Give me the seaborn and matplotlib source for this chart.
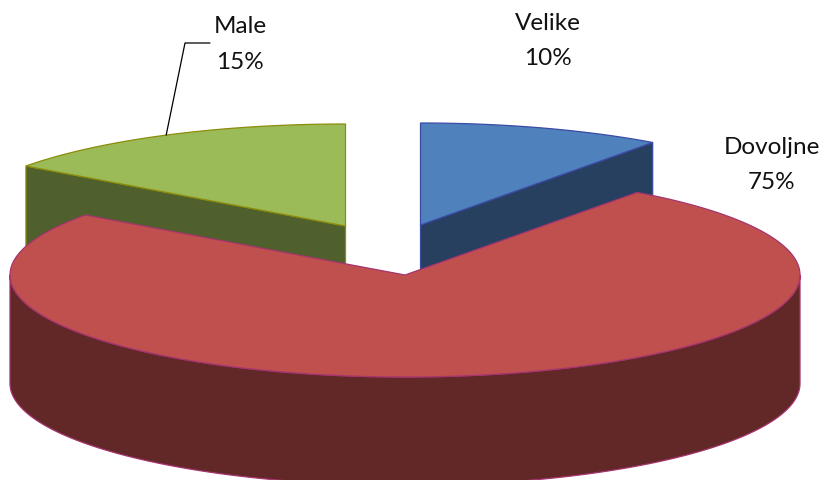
import numpy as np
import matplotlib
matplotlib.use("Agg")
import matplotlib.pyplot as plt
import seaborn as sns

# Data
categories = ["Velike", "Dovoljne", "Male"]
shares = [10, 75, 15]

# Styles
top_colors = sns.color_palette(["#4F81BD", "#C0504D", "#9BBB59"])
wall_colors = sns.color_palette(["#28405F", "#622828", "#4F602D"])
edge_colors = sns.color_palette(["#3A4BA5", "#A5346F", "#8C8C0A"])
centers = [(420.5, 225.0), (405.0, 275.0), (345.5, 226.0)]
label_pos = [(548, 41), (772, 165), (240, 44.5)]
RX, RY, DEPTH = 395.0, 102.0, 108.5
START = 90.0

sns.set_theme(style="white")
plt.rcParams["font.family"] = ["Lato", "DejaVu Sans"]

fig = plt.figure(figsize=(8.25, 4.8), dpi=100)
ax = fig.add_axes([0, 0, 1, 1])
ax.set_xlim(0, 825)
ax.set_ylim(480, 0)
ax.axis("off")


def rim(center, t):
    t = np.radians(t)
    return center[0] + RX * np.cos(t), center[1] - RY * np.sin(t)


# clockwise angle ranges derived from the shares
ends = START - 360.0 * np.cumsum(shares) / np.sum(shares)
starts = np.r_[START, ends[:-1]]

draw_order = [0, 2, 1]
for i in draw_order:
    c, a0, a1 = centers[i], starts[i], ends[i]
    z = {0: 2, 2: 2, 1: 5}[i]
    # cut faces visible from the front
    if i == 0:
        x1, y1 = rim(c, a1)
        ax.fill([c[0], x1, x1, c[0]], [c[1], y1, y1 + DEPTH, c[1] + DEPTH],
                fc=wall_colors[i], ec=edge_colors[i], lw=0.9, zorder=z)
    elif i == 2:
        x0, y0 = rim(c, a0)
        ax.fill([c[0], x0, x0, c[0]], [c[1], y0, y0 + DEPTH, c[1] + DEPTH],
                fc=wall_colors[i], ec=edge_colors[i], lw=0.9, zorder=z)
    else:
        # outer wall: the front half of the rim
        t = np.linspace(180, 360, 240)
        xs, ys = rim(c, t)
        ax.fill(np.r_[xs, xs[::-1]], np.r_[ys, ys[::-1] + DEPTH],
                fc=wall_colors[i], ec=edge_colors[i], lw=0.9, zorder=z)
    # top face
    t = np.linspace(a0, a1, 300)
    xs, ys = rim(c, t)
    ax.fill(np.r_[c[0], xs], np.r_[c[1], ys],
            fc=top_colors[i], ec=edge_colors[i], lw=0.9, zorder=z + 1)

for name, share, (x, y) in zip(categories, shares, label_pos):
    ax.text(x, y, f"{name}\n{share}%", ha="center", va="center", fontsize=17.5,
            color="#111111", linespacing=1.88, zorder=10)

# leader line from the Male slice to its label
mx, my = rim(centers[2], starts[2] + 0.5 * (ends[2] - starts[2]) + 360)
ax.plot([mx, 185, 210], [my, 43, 43], color="black", lw=0.9, zorder=9)

fig.savefig("out.png", dpi=100)
